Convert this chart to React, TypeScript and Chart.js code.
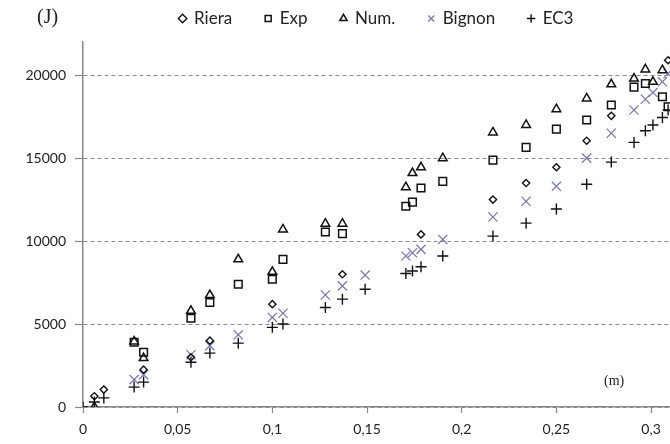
import React, { useEffect, useRef } from "react";
import { Chart, registerables } from "chart.js";

Chart.register(...registerables);

// ---- data (x in m, y in J) ----
const SERIES_NAMES = ["Riera", "Exp", "Num.", "Bignon", "EC3"];

const RIERA_X = [0.006, 0.011, 0.032, 0.057, 0.067, 0.100, 0.137, 0.1785, 0.2165, 0.234, 0.250, 0.266, 0.279, 0.309];
const RIERA_Y = [650, 1050, 2250, 3000, 4000, 6200, 8000, 10400, 12500, 13500, 14450, 16050, 17550, 20900];

const EXP_X = [0.027, 0.032, 0.057, 0.067, 0.082, 0.100, 0.1056, 0.128, 0.137, 0.1705, 0.174, 0.1785, 0.190, 0.2165, 0.234, 0.250, 0.266, 0.279, 0.291, 0.297, 0.306, 0.309];
const EXP_Y = [3900, 3300, 5350, 6300, 7400, 7700, 8900, 10550, 10450, 12100, 12350, 13200, 13600, 14880, 15650, 16750, 17300, 18200, 19280, 19500, 18700, 18100];

const NUM_X = [0.006, 0.027, 0.032, 0.057, 0.067, 0.082, 0.100, 0.1056, 0.128, 0.137, 0.1705, 0.174, 0.1785, 0.190, 0.2165, 0.234, 0.250, 0.266, 0.279, 0.291, 0.297, 0.301, 0.306];
const NUM_Y = [0, 3950, 2950, 5800, 6750, 8900, 8150, 10700, 11050, 11050, 13250, 14100, 14450, 15000, 16550, 17000, 17950, 18600, 19450, 19800, 20350, 19600, 20300];

const BIGNON_X = [0.027, 0.032, 0.057, 0.067, 0.082, 0.100, 0.1056, 0.128, 0.137, 0.149, 0.1705, 0.174, 0.1785, 0.190, 0.2165, 0.234, 0.250, 0.266, 0.279, 0.291, 0.297, 0.301, 0.306, 0.309];
const BIGNON_Y = [1650, 1950, 3150, 3700, 4350, 5400, 5650, 6750, 7300, 7950, 9100, 9300, 9500, 10100, 11450, 12400, 13300, 15000, 16500, 17900, 18550, 18950, 19600, 20100];

const EC3_X = [0, 0.006, 0.011, 0.027, 0.032, 0.057, 0.067, 0.082, 0.100, 0.1056, 0.128, 0.137, 0.149, 0.1705, 0.174, 0.1785, 0.190, 0.2165, 0.234, 0.250, 0.266, 0.279, 0.291, 0.297, 0.301, 0.306, 0.309];
const EC3_Y = [0, 300, 550, 1200, 1500, 2700, 3250, 3850, 4800, 5000, 6000, 6500, 7100, 8050, 8200, 8450, 9100, 10300, 11080, 11930, 13430, 14760, 15950, 16650, 17000, 17450, 17900];

const X_TICKS = [0, 0.05, 0.1, 0.15, 0.2, 0.25, 0.3];
const X_TICK_LABELS = ["0", "0,05", "0,1", "0,15", "0,2", "0,25", "0,3"];
const Y_TICKS = [0, 5000, 10000, 15000, 20000];
const Y_TICK_LABELS = ["0", "5000", "10000", "15000", "20000"];

const Y_UNIT = "(J)";
const X_UNIT = "(m)";

const pts = (xs: number[], ys: number[]) => xs.map((x, i) => ({ x, y: ys[i] }));

const FONT = "Lato";

export default function App() {
  const ref = useRef<HTMLCanvasElement | null>(null);

  useEffect(() => {
    document.body.style.margin = "0";
    const canvas = ref.current;
    if (!canvas) return;

    const legendFix = {
      id: "legendFix",
      beforeInit(chart: any) {
        const lg = chart.legend;
        if (!lg) return;
        const fit = lg.fit;
        lg.fit = function () {
          fit.call(this);
          this.height = 42;
        };
        const draw = lg.draw;
        lg.draw = function (...args: any[]) {
          const t = this.top;
          this.top = t - 23;
          draw.apply(this, args);
          this.top = t;
        };
      },
    };

    const units = {
      id: "units",
      afterDraw(chart: any) {
        const ctx = chart.ctx;
        ctx.save();
        ctx.fillStyle = "#222";
        ctx.textBaseline = "middle";
        ctx.textAlign = "left";
        ctx.font = "20px 'Liberation Serif'";
        ctx.fillText(Y_UNIT, 37, 18);
        ctx.font = "14px 'Liberation Serif'";
        ctx.fillText(X_UNIT, 604, 381);
        ctx.restore();
      },
    };

    const black = "#111";
    const chart = new Chart(canvas, {
      type: "scatter",
      data: {
        datasets: [
          { label: SERIES_NAMES[0], data: pts(RIERA_X, RIERA_Y), pointStyle: "rectRot", pointRadius: 3.6, borderColor: black, backgroundColor: "rgba(0,0,0,0)", borderWidth: 1.4 },
          { label: SERIES_NAMES[1], data: pts(EXP_X, EXP_Y), pointStyle: "rect", pointRadius: 5.4, borderColor: black, backgroundColor: "rgba(0,0,0,0)", borderWidth: 1.5 },
          { label: SERIES_NAMES[2], data: pts(NUM_X, NUM_Y), pointStyle: "triangle", pointRadius: 5, borderColor: black, backgroundColor: "rgba(0,0,0,0)", borderWidth: 1.5 },
          { label: SERIES_NAMES[3], data: pts(BIGNON_X, BIGNON_Y), pointStyle: "crossRot", pointRadius: 6.5, borderColor: "#7474b4", backgroundColor: "rgba(0,0,0,0)", borderWidth: 1.2 },
          { label: SERIES_NAMES[4], data: pts(EC3_X, EC3_Y), pointStyle: "cross", pointRadius: 5.5, borderColor: black, backgroundColor: "rgba(0,0,0,0)", borderWidth: 1.4 },
        ] as any,
      },
      options: {
        animation: false,
        responsive: false,
        layout: { padding: 0, autoPadding: false },
        plugins: {
          legend: {
            display: true,
            position: "top",
            fullSize: false,
            labels: {
              usePointStyle: true,
              boxWidth: 6,
              boxHeight: 6,
              padding: 33,
              color: "#222",
              font: { family: FONT, size: 17 },
            },
          },
          tooltip: { enabled: false },
        },
        scales: {
          x: {
            type: "linear",
            min: 0,
            max: 0.31,
            afterBuildTicks: (s: any) => {
              s.ticks = X_TICKS.map((v) => ({ value: v }));
            },
            afterFit: (s: any) => {
              s.height = 37;
              s.paddingLeft = 0;
              s.paddingRight = 0;
            },
            ticks: {
              padding: 8,
              color: "#222",
              font: { family: FONT, size: 14 },
              maxRotation: 0,
              autoSkip: false,
              callback: (_v: any, i: number) => X_TICK_LABELS[i],
            },
            grid: { drawOnChartArea: false, drawTicks: true, tickLength: 6, tickColor: "#888", tickWidth: 1.2 },
            border: { display: true, color: "#888", width: 1.5 },
          },
          y: {
            type: "linear",
            min: 0,
            max: 22000,
            afterBuildTicks: (s: any) => {
              s.ticks = Y_TICKS.map((v) => ({ value: v }));
            },
            afterFit: (s: any) => {
              s.width = 83;
            },
            ticks: {
              padding: 9,
              color: "#222",
              font: { family: FONT, size: 14 },
              autoSkip: false,
              callback: (_v: any, i: number) => Y_TICK_LABELS[i],
            },
            grid: { drawOnChartArea: true, drawTicks: true, tickLength: 8, color: "#8a8a8a", lineWidth: 1, tickColor: "#888", tickBorderDash: [], tickWidth: 1.2 },
            border: { display: true, color: "#888", width: 1.5, dash: [4, 3] },
          },
        },
      },
      plugins: [legendFix, units],
    });

    return () => chart.destroy();
  }, []);

  return (
    <div style={{ width: 670, height: 444 }}>
      <canvas ref={ref} width={670} height={444} style={{ display: "block" }} />
    </div>
  );
}
